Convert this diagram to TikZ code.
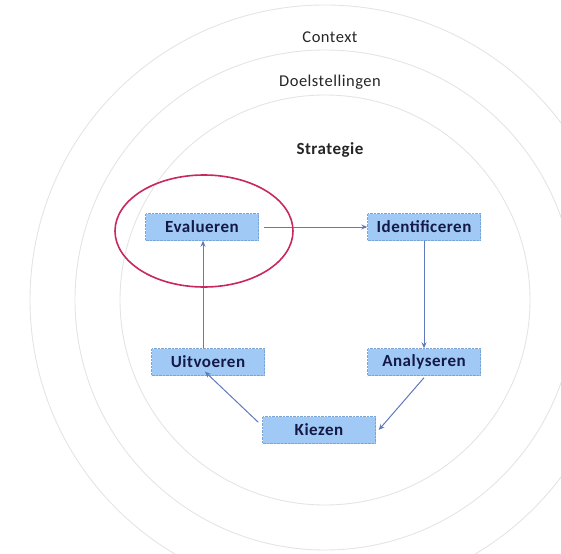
\documentclass[tikz,border=0pt]{standalone}
\usepackage{fontspec}
\setmainfont{Carlito}[LetterSpace=3]
\usetikzlibrary{arrows.meta,shapes.geometric}
\definecolor{boxfill}{RGB}{160,202,245}
\definecolor{boxedge}{RGB}{120,165,215}
\definecolor{arrowcol}{RGB}{95,120,190}
\definecolor{ringcol}{RGB}{228,228,228}
\definecolor{redring}{RGB}{200,40,95}
\definecolor{labelcol}{RGB}{20,25,70}
\tikzset{
  stepbox/.style={draw=boxedge, densely dotted, fill=boxfill, minimum width=113pt, minimum height=27pt,
    inner sep=0pt, font=\fontsize{17}{19}\selectfont\bfseries, text=labelcol},
  flow/.style={draw=arrowcol, line width=1pt, -{Stealth[length=6pt,width=5pt]}},
  ring/.style={draw=ringcol, line width=0.9pt},
  ringlabel/.style={font=\fontsize{16.5}{19}\selectfont, text=black!85}
}
\begin{document}
\begin{tikzpicture}[x=1pt,y=-1pt]
\useasboundingbox (0,0) rectangle (561,553);
\begin{scope}
\clip (0,0) rectangle (561,553);
\draw[ring] (325,300) circle (295);
\draw[ring] (325,300) circle (250);
\draw[ring] (325,300) circle (205);
\end{scope}
\node[ringlabel] (ctx) at (330,37) {Context};
\node[ringlabel] (doel) at (330,82) {Doelstellingen};
\node[ringlabel, font=\fontsize{17}{19}\selectfont\bfseries] (strat) at (330,150) {Strategie};

\node[stepbox] (eval) at (202,227) {Evalueren};
\node[stepbox] (ident) at (424,227) {Identificeren};
\node[stepbox] (anal) at (424,362) {Analyseren};
\node[stepbox] (uitv) at (208,362) {Uitvoeren};
\node[stepbox] (kiez) at (319,430) {Kiezen};

\draw[flow] ([xshift=5pt]eval.east) -- (ident.west);
\draw[flow] (ident.south) -- (anal.north);
\draw[flow] ([yshift=-2pt]anal.south) -- ([xshift=3pt]kiez.east);
\draw[flow] ([xshift=-4pt,yshift=-6pt]kiez.north west) -- ([xshift=-3pt,yshift=4pt]uitv.south);
\draw[flow] ([xshift=-5pt]uitv.north) -- ([xshift=1pt]eval.south);

\node[draw=redring, line width=1.6pt, ellipse, minimum width=178pt, minimum height=112pt] (hl) at (204,231) {};
\end{tikzpicture}
\end{document}
